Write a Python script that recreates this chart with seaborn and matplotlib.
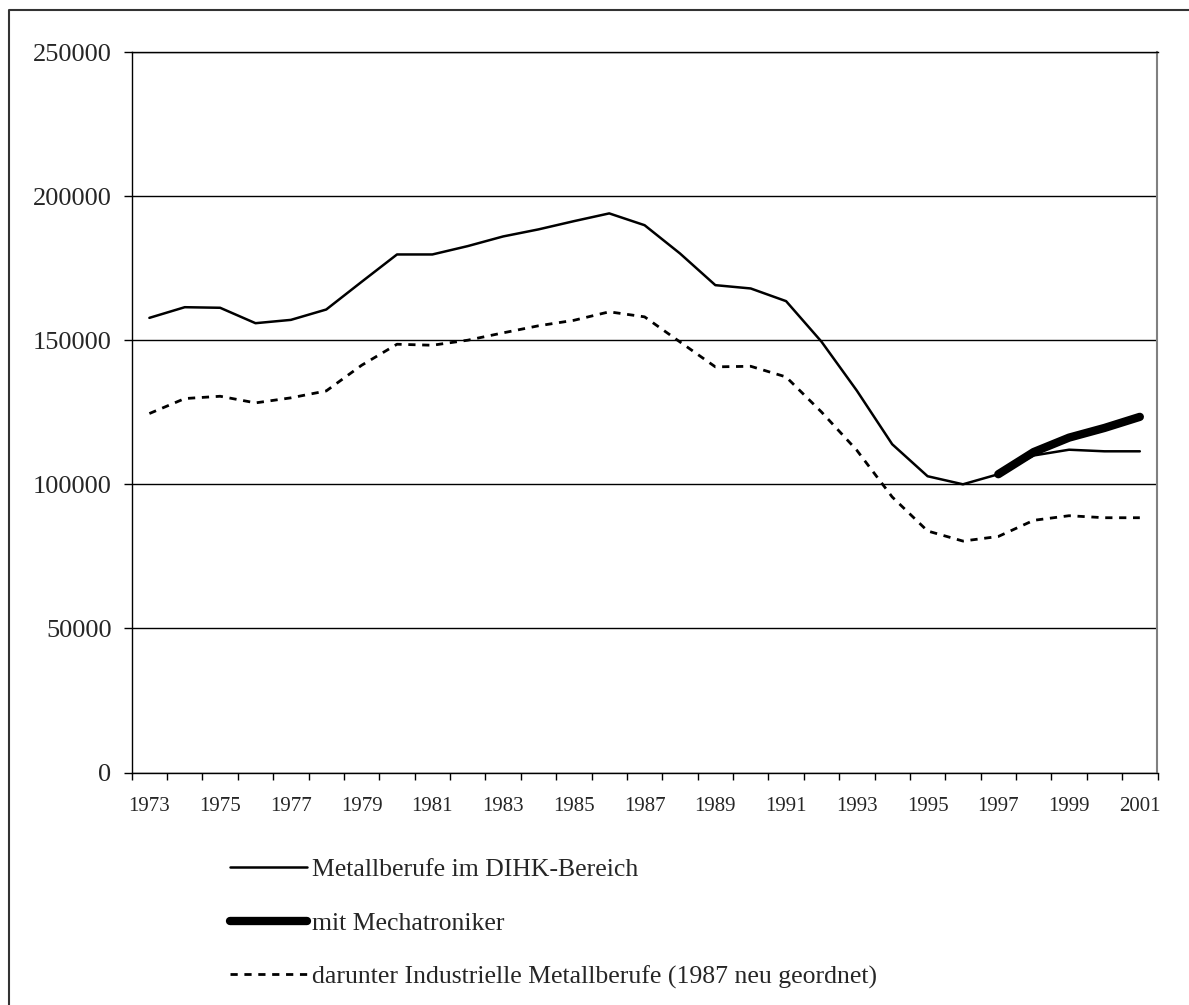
import matplotlib
matplotlib.use('Agg')
import matplotlib.pyplot as plt
from matplotlib.lines import Line2D
from matplotlib.ticker import FixedLocator
import seaborn as sns
import numpy as np
import pandas as pd

# Values (Auszubildende, 1973-2001)
years = list(range(1973, 2002))
metall_dihk = [157750, 161450, 161250, 155900, 157050, 160650, 170250, 179750,
               179750, 182650, 186000, 188450, 191300, 194000, 189900, 180100,
               169100, 167950, 163550, 149500, 132500, 113900, 102800, 100000,
               103500, 110000, 112000, 111450, 111450]
mit_mechatroniker = [np.nan] * 24 + [103500, 111200, 116200, 119550, 123400]
industrielle = [124550, 129750, 130550, 128250, 130000, 132400, 141300, 148600,
                148250, 150000, 152550, 155000, 156900, 159850, 158100, 149400,
                140750, 140950, 137250, 125100, 111800, 95600, 83800, 80300,
                81900, 87500, 89100, 88400, 88400]

labels = ['Metallberufe im DIHK-Bereich',
          'mit Mechatroniker',
          'darunter Industrielle Metallberufe (1987 neu geordnet)']
x_labels = [str(y) for y in years[::2]]
y_ticks = [0, 50000, 100000, 150000, 200000, 250000]

df = pd.DataFrame({'Jahr': years,
                   'metall': metall_dihk,
                   'mecha': mit_mechatroniker,
                   'indu': industrielle})

sns.set_style('white')
plt.rcParams['font.family'] = ['Liberation Serif', 'DejaVu Serif']

W, H = 1189, 1005
fig = plt.figure(figsize=(W / 100, H / 100), dpi=100)
ax = fig.add_axes([131.7 / W, 1 - 772.5 / H, 1025.8 / W, 720.5 / H])

sns.lineplot(data=df, x='Jahr', y='metall', ax=ax, color='black',
             linewidth=1.8, label=labels[0])
sns.lineplot(data=df, x='Jahr', y='mecha', ax=ax, color='black',
             linewidth=6.0, label=labels[1], solid_capstyle='round')
sns.lineplot(data=df, x='Jahr', y='indu', ax=ax, color='black',
             linewidth=2.0, label=labels[2], dashes=(2.6, 2.4))

ax.set_xlim(1972.5, 2001.5)
ax.set_ylim(0, 250000)
ax.set_xlabel('')
ax.set_ylabel('')

# y axis
ax.set_yticks(y_ticks)
ax.set_yticklabels([str(v) for v in y_ticks])
ax.yaxis.grid(True, color='black', linewidth=1.0)
ax.tick_params(axis='y', which='major', direction='out', length=6,
               width=1, color='black', pad=8.5, labelsize=19, left=True)

# x axis: labels every other year, tick marks between categories
ax.set_xticks(years[::2])
ax.set_xticklabels(x_labels)
ax.xaxis.set_minor_locator(FixedLocator(np.arange(1972.5, 2002, 1)))
ax.tick_params(axis='x', which='major', length=0, pad=17.5, labelsize=15)
ax.tick_params(axis='x', which='minor', direction='out', length=5,
               width=1, color='black', bottom=True)

for side in ['left', 'bottom', 'top']:
    ax.spines[side].set_color('black')
    ax.spines[side].set_linewidth(1.0)
ax.spines['right'].set_color('#808080')
ax.spines['right'].set_linewidth(1.5)

ax.get_legend().remove()
handles = ax.get_lines()[:3]
fig.legend(handles, labels, loc='upper left',
           bbox_to_anchor=(230 / W, 1 - 858 / H), frameon=False,
           fontsize=18.5, handlelength=3.0, handletextpad=0.2,
           borderpad=0, borderaxespad=0, labelspacing=1.19)

# outer chart frame
fig.add_artist(Line2D([9 / W, 9 / W, 1.0], [0.0, 1 - 10 / H, 1 - 10 / H],
                      transform=fig.transFigure, color='#333333', linewidth=1.5))

fig.savefig('out.png', dpi=100)
